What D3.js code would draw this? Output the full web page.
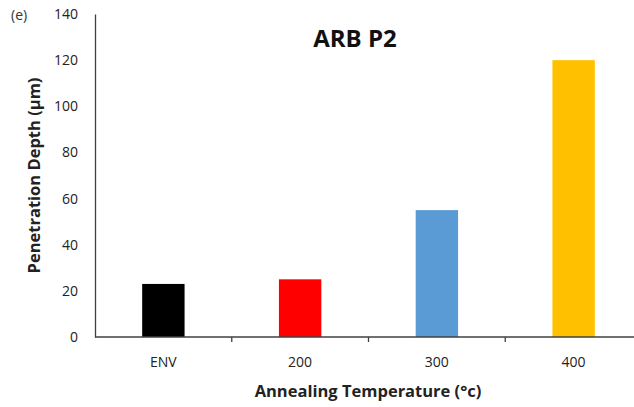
<!DOCTYPE html>
<html>
<head>
<meta charset="utf-8">
<script src="https://cdn.jsdelivr.net/npm/d3@7"></script>
<style>
  body { margin: 0; background: #fff; overflow: hidden; }
  text { font-family: "Open Sans", "Liberation Sans", sans-serif; }
</style>
</head>
<body>
<svg id="chart"></svg>
<script>
const categories = ["ENV", "200", "300", "400"];
const depths = [23, 25, 55, 120];
const barColors = ["#000000", "#ff0000", "#5b9bd5", "#ffc000"];
const yTicks = [0, 20, 40, 60, 80, 100, 120, 140];

const width = 634;
const height = 407;
const margin = { top: 14, right: -8, bottom: 70, left: 95 };

const svg = d3.select("#chart").attr("width", width).attr("height", height);

const innerWidth = width - margin.left - margin.right;
const innerHeight = height - margin.top - margin.bottom;

const chartArea = svg.append("g").attr("transform", `translate(${margin.left},${margin.top})`);

const xScale = d3.scaleBand().domain(categories).range([0, innerWidth]).paddingInner(0.69).paddingOuter(0.345);
const yScale = d3.scaleLinear().domain([0, 140]).range([innerHeight, 0]);

// Bars
chartArea
  .selectAll(".bar")
  .data(categories)
  .enter()
  .append("rect")
  .attr("class", "bar")
  .attr("x", (d) => xScale(d))
  .attr("y", (d, i) => yScale(depths[i]))
  .attr("width", xScale.bandwidth())
  .attr("height", (d, i) => innerHeight - yScale(depths[i]))
  .attr("fill", (d, i) => barColors[i]);

// Y axis (no tick marks)
const yAxis = chartArea.append("g").call(d3.axisLeft(yScale).tickValues(yTicks).tickSize(0).tickPadding(17));
yAxis.select(".domain").attr("stroke", "#404040").attr("stroke-width", 1.3);
yAxis.selectAll("text").style("font-size", "14px").style("fill", "#222");

// X axis with ticks between categories
const xAxis = chartArea.append("g").attr("transform", `translate(0,${innerHeight})`);
xAxis.append("line").attr("x1", 0).attr("x2", innerWidth).attr("stroke", "#404040").attr("stroke-width", 1.3);
const step = xScale.step();
xAxis
  .selectAll(".sep")
  .data(categories.slice(1))
  .enter()
  .append("line")
  .attr("x1", (d) => xScale(d) - (step - xScale.bandwidth()) / 2)
  .attr("x2", (d) => xScale(d) - (step - xScale.bandwidth()) / 2)
  .attr("y1", 0)
  .attr("y2", 5)
  .attr("stroke", "#404040")
  .attr("stroke-width", 1.3);
xAxis
  .selectAll(".lbl")
  .data(categories)
  .enter()
  .append("text")
  .attr("x", (d) => xScale(d) + xScale.bandwidth() / 2)
  .attr("y", 30)
  .attr("text-anchor", "middle")
  .style("font-size", "14px")
  .style("fill", "#222")
  .text((d) => d);

// Title
svg
  .append("text")
  .attr("x", 355)
  .attr("y", 47)
  .attr("text-anchor", "middle")
  .style("font-size", "24px")
  .style("font-weight", "bold")
  .style("fill", "#111")
  .text("ARB P2");

// X Axis Label
svg
  .append("text")
  .attr("x", 368)
  .attr("y", 397)
  .attr("text-anchor", "middle")
  .style("font-size", "16.5px")
  .style("font-weight", "bold")
  .style("fill", "#222")
  .text("Annealing Temperature (°c)");

// Y Axis Label
svg
  .append("text")
  .attr("transform", "rotate(-90)")
  .attr("x", -(margin.top + innerHeight / 2))
  .attr("y", 40)
  .attr("text-anchor", "middle")
  .style("font-size", "16.5px")
  .style("font-weight", "bold")
  .style("fill", "#222")
  .text("Penetration Depth (µm)");

// Panel letter
svg
  .append("text")
  .attr("x", 11)
  .attr("y", 20)
  .style("font-size", "14px")
  .style("fill", "#333")
  .text("(e)");
</script>
</body>
</html>
